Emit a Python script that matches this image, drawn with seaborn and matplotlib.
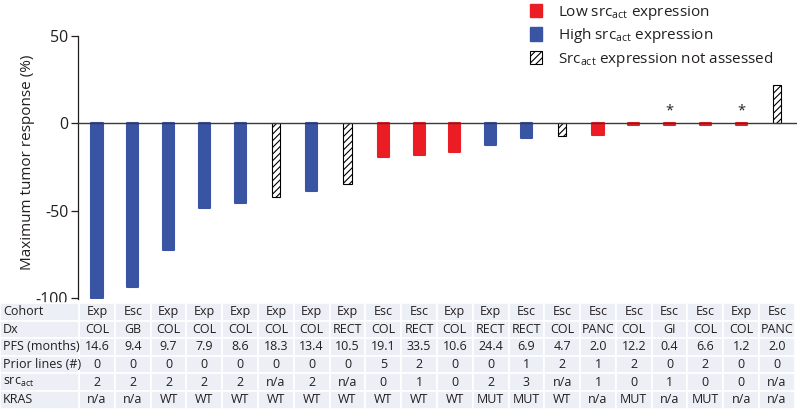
import numpy as np
import pandas as pd
import matplotlib
matplotlib.use("Agg")
import matplotlib.pyplot as plt
import seaborn as sns
from matplotlib.transforms import blended_transform_factory
from matplotlib.patches import Patch, Rectangle

# ---------------- data ----------------
response = [-100, -93.5, -72.5, -48.5, -45.5, -42, -38.5, -35, -19.5, -18,
            -16.5, -12.5, -8.5, -7, -6.5, -0.8, -0.8, -0.8, -0.8, 22]
src_group = ['high', 'high', 'high', 'high', 'high', 'na', 'high', 'na', 'low', 'low',
             'low', 'high', 'high', 'na', 'low', 'low', 'low', 'low', 'low', 'na']
starred = [16, 18]

cohort = ['Exp', 'Esc', 'Exp', 'Exp', 'Exp', 'Exp', 'Exp', 'Exp', 'Esc', 'Esc',
          'Exp', 'Exp', 'Esc', 'Esc', 'Esc', 'Esc', 'Esc', 'Esc', 'Exp', 'Esc']
dx = ['COL', 'GB', 'COL', 'COL', 'COL', 'COL', 'COL', 'RECT', 'COL', 'RECT',
      'COL', 'RECT', 'RECT', 'COL', 'PANC', 'COL', 'GI', 'COL', 'COL', 'PANC']
pfs = ['14.6', '9.4', '9.7', '7.9', '8.6', '18.3', '13.4', '10.5', '19.1', '33.5',
       '10.6', '24.4', '6.9', '4.7', '2.0', '12.2', '0.4', '6.6', '1.2', '2.0']
prior_lines = ['0', '0', '0', '0', '0', '0', '0', '0', '5', '2',
               '0', '0', '1', '2', '1', '2', '0', '2', '0', '0']
src_act = ['2', '2', '2', '2', '2', 'n/a', '2', 'n/a', '0', '1',
           '0', '2', '3', 'n/a', '1', '0', '1', '0', '0', 'n/a']
kras = ['n/a', 'n/a', 'WT', 'WT', 'WT', 'WT', 'WT', 'WT', 'WT', 'WT',
        'WT', 'MUT', 'MUT', 'WT', 'n/a', 'MUT', 'n/a', 'MUT', 'n/a', 'n/a']
row_labels = ['Cohort', 'Dx', 'PFS (months)', 'Prior lines (#)',
              r'src$_{\mathrm{act}}$', 'KRAS']
legend_labels = [r'Low src$_{\mathrm{act}}$ expression',
                 r'High src$_{\mathrm{act}}$ expression',
                 r'Src$_{\mathrm{act}}$ expression not assessed']
yticks = [50, 0, -50, -100]

# ---------------- style ----------------
sns.set_style("white")
plt.rcParams['font.family'] = ['Open Sans', 'DejaVu Sans']
plt.rcParams['mathtext.fontset'] = 'custom'
plt.rcParams['mathtext.rm'] = 'Open Sans'
plt.rcParams['mathtext.it'] = 'Open Sans:italic'
plt.rcParams['axes.unicode_minus'] = False
plt.rcParams['hatch.linewidth'] = 0.8

RED = '#ec1c24'
BLUE = '#3a54a4'
TXT = '#231f20'
CELL = '#eceff5'

n = len(response)
df = pd.DataFrame({'pos': list(range(n)), 'response': response, 'group': src_group})

fig = plt.figure(figsize=(8.0, 4.09), dpi=100)
W, H = 800, 409
ax = fig.add_axes([78 / W, 1 - 299 / H, (797 - 78) / W, (299 - 36) / H])

palette = {'low': RED, 'high': BLUE, 'na': 'white'}
sns.barplot(data=df, x='pos', y='response', hue='group', palette=palette,
            dodge=False, width=0.31, order=list(range(n)), errorbar=None,
            legend=False, ax=ax, saturation=1)

for p in ax.patches:
    h = p.get_height()
    if h is None or np.isnan(h):
        continue
    cx = p.get_x() + p.get_width() / 2
    i = int(round(cx))
    g = src_group[i]
    if g == 'na':
        w = 0.23
        p.set_x(cx - w / 2)
        p.set_width(w)
        p.set_facecolor('white')
        p.set_edgecolor('black')
        p.set_hatch('/////')
        p.set_linewidth(0.8)
    else:
        c = RED if g == 'low' else BLUE
        p.set_edgecolor(c)
        p.set_linewidth(1.5)
        p.set_joinstyle('round')

ax.axhline(0, color='#3a3a3a', lw=1.0, zorder=3)
for i in starred:
    ax.text(i, 2.5, '*', ha='center', va='bottom', fontsize=10.5, color=TXT)

ax.set_xlim(-0.53, 19.56)
ax.set_ylim(-100.6, 50)
ax.set_yticks(yticks)
ax.set_yticklabels([str(t) for t in yticks], fontsize=11.5, color=TXT)
ax.set_xticks([])
ax.set_xlabel('')
ax.set_ylabel('Maximum tumor response (%)', fontsize=11, color=TXT)
ax.yaxis.set_label_coords(-0.060, 0.52)
for s in ['top', 'right', 'bottom']:
    ax.spines[s].set_visible(False)
ax.spines['left'].set_color('#231f20')
ax.spines['left'].set_linewidth(0.9)
ax.tick_params(axis='y', direction='out', length=5, width=0.9, color='#231f20',
               left=True, pad=2)

# ---------------- table ----------------
trans = blended_transform_factory(ax.transData, fig.transFigure)
rows = [cohort, dx, pfs, prior_lines, src_act, kras]
top_px = 303
rh = 17.6
for r, (lab, vals) in enumerate(zip(row_labels, rows)):
    y0 = 1 - (top_px + rh * (r + 1)) / H
    hh = rh / H
    yc = y0 + hh / 2
    fig.add_artist(Rectangle((0, y0), 79 / W, hh, transform=fig.transFigure,
                             facecolor=CELL, edgecolor='white', lw=1.2))
    fig.text(3 / W, yc, lab, ha='left', va='center', fontsize=9, color=TXT)
    for i, v in enumerate(vals):
        ax.add_patch(Rectangle((i - 0.5, y0), 1, hh, transform=trans,
                               facecolor=CELL, edgecolor='white', lw=1.2,
                               clip_on=False))
        ax.text(i, yc, v, transform=trans, ha='center', va='center',
                fontsize=9, color=TXT, clip_on=False)

# ---------------- legend ----------------
handles = [Patch(facecolor=RED, edgecolor=RED),
           Patch(facecolor=BLUE, edgecolor=BLUE),
           Patch(facecolor='white', edgecolor='black', hatch='/////', lw=0.8)]
fig.legend(handles, legend_labels, loc='upper left', bbox_to_anchor=(0.655, 1.006),
           frameon=False, fontsize=11, handlelength=0.75, handleheight=1.0,
           labelspacing=0.3, handletextpad=1.1, borderaxespad=0, labelcolor=TXT)

fig.savefig('out.png', dpi=100)
